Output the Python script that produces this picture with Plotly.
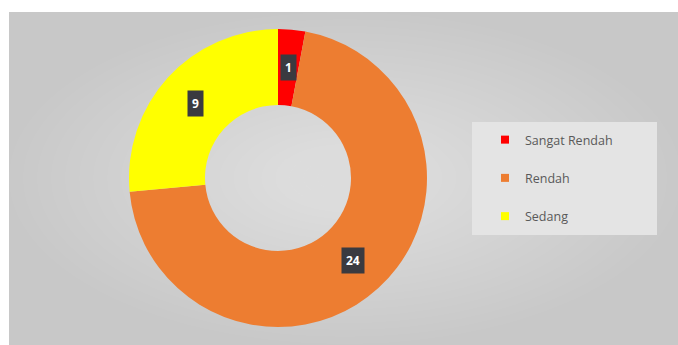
import math
import plotly.graph_objects as go

labels = ["Sangat Rendah", "Rendah", "Sedang"]
values = [1, 24, 9]
colors = ["#ff0000", "#ed7d31", "#ffff00"]

W, H = 678, 345
cx, cy, R = 278, 178, 149
hole = 0.49

fig = go.Figure()

fig.add_trace(go.Pie(
    labels=labels, values=values, hole=hole, sort=False,
    direction="clockwise", rotation=0,
    marker=dict(colors=colors, line=dict(width=0)),
    textinfo="none", showlegend=False,
    domain=dict(x=[(cx - R) / W, (cx + R) / W], y=[1 - (cy + R) / H, 1 - (cy - R) / H]),
))

# legend entries
for lab, col in zip(labels, colors):
    fig.add_trace(go.Scatter(
        x=[None], y=[None], mode="markers", name=lab, legendgroup=lab,
        marker=dict(symbol="square", size=8, color=col),
    ))

# value labels placed at the middle of each slice
total = sum(values)
cum = 0
rl = R * (1 + hole) / 2
for v in values:
    mid = (cum + v / 2) / total * 2 * math.pi
    cum += v
    px = cx + rl * math.sin(mid)
    py = cy - rl * math.cos(mid)
    fig.add_annotation(
        x=px / W, y=1 - py / H, xref="paper", yref="paper", showarrow=False,
        xanchor="center", yanchor="middle",
        text="<b>%d</b>" % v, font=dict(color="white", size=12, family="Open Sans"),
        bgcolor="#3a3a40", borderpad=4,
    )

shapes = []
# panel with radial gradient (stacked translucent ellipses)
shapes.append(dict(type="rect", xref="paper", yref="paper", x0=9 / W, x1=1, y0=0, y1=1 - 12 / H,
                   fillcolor="#c8c8c8", line=dict(width=0), layer="below"))
n = 24
ex, ey = 345, 178
for i in range(n):
    f = 1 - i / n
    rx, ry = 336 * f, 166 * f
    shapes.append(dict(type="circle", xref="paper", yref="paper",
                       x0=(ex - rx) / W, x1=(ex + rx) / W,
                       y0=1 - (ey + ry) / H, y1=1 - (ey - ry) / H,
                       fillcolor="white", opacity=0.027, line=dict(width=0), layer="below"))
# legend box
shapes.append(dict(type="rect", xref="paper", yref="paper", x0=472 / W, x1=657 / W,
                   y0=1 - 235 / H, y1=1 - 122 / H, fillcolor="#e4e4e4",
                   line=dict(width=0), layer="below"))

fig.update_layout(
    width=W, height=H, margin=dict(l=0, r=0, t=0, b=0),
    paper_bgcolor="white", plot_bgcolor="rgba(0,0,0,0)",
    xaxis=dict(visible=False), yaxis=dict(visible=False),
    shapes=shapes,
    showlegend=True,
    legend=dict(x=485 / W, y=1 - 125 / H, xanchor="left", yanchor="top",
                bgcolor="rgba(0,0,0,0)", tracegroupgap=19,
                font=dict(family="Open Sans", size=12.5, color="#595959")),
)

fig.write_html("out.html")
